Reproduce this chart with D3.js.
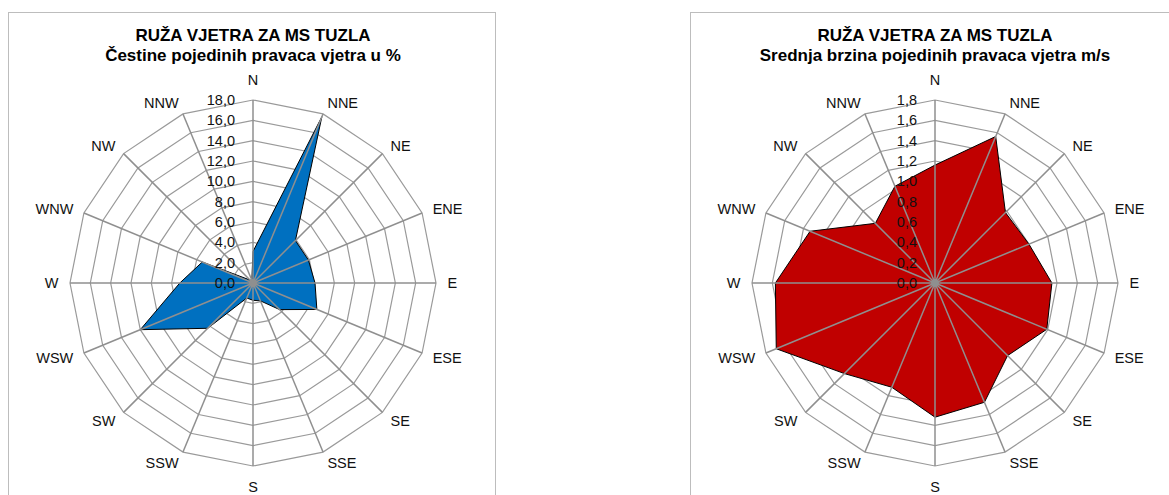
<!DOCTYPE html>
<html>
<head>
<meta charset="utf-8">
<script src="https://cdn.jsdelivr.net/npm/d3@7"></script>
<style>
  body { margin: 0; background: #fff; }
  svg { display: block; font-family: "Liberation Sans", Arial, sans-serif; }
</style>
</head>
<body>
<svg id="chart" width="1169" height="495"></svg>
<script>
// wind directions, clockwise from north
var directions = ["N", "NNE", "NE", "ENE", "E", "ESE", "SE", "SSE",
                  "S", "SSW", "SW", "WSW", "W", "WNW", "NW", "NNW"];

// frequency of each direction, %
var frequency = [3.1, 17.7, 5.9, 5.9, 6.1, 6.8, 3.7, 1.9,
                 1.7, 1.6, 6.3, 12.0, 7.2, 5.4, 0.4, 0.3];

// mean speed of each direction, m/s
var speed = [1.16, 1.56, 0.98, 1.00, 1.15, 1.19, 1.01, 1.27,
             1.32, 1.11, 1.26, 1.69, 1.57, 1.33, 0.83, 1.03];

var freqTicks = [0, 2, 4, 6, 8, 10, 12, 14, 16, 18];
var speedTicks = [0, 0.2, 0.4, 0.6, 0.8, 1.0, 1.2, 1.4, 1.6, 1.8];

var titleMain = "RUŽA VJETRA ZA MS TUZLA";
var freqSubtitle = "Čestine pojedinih pravaca vjetra u %";
var speedSubtitle = "Srednja brzina pojedinih pravaca vjetra m/s";

var svg = d3.select("#chart");

// chart frames (bottom and right edge run off the picture)
svg.append("rect")
    .attr("x", 8.5).attr("y", 12.5)
    .attr("width", 487).attr("height", 500)
    .attr("fill", "none").attr("stroke", "#bdbdbd");
svg.append("rect")
    .attr("x", 690.5).attr("y", 12.5)
    .attr("width", 500).attr("height", 500)
    .attr("fill", "none").attr("stroke", "#bdbdbd");

function rose(cx, cy, values, ticks, fill, subtitle) {
    var outer = 183,
        labelR = 194.5;
    var g = svg.append("g").attr("transform", "translate(" + cx + "," + cy + ")");

    var angle = d3.scaleBand()
        .domain(directions)
        .range([0, 2 * Math.PI])
        .align(0);
    var r = d3.scaleLinear()
        .domain([0, d3.max(ticks)])
        .range([0, outer]);
    var fmt = d3.format(".1f");

    function px(d, rad) { return rad * Math.sin(angle(d)); }
    function py(d, rad) { return -rad * Math.cos(angle(d)); }

    // titles
    svg.append("text")
        .attr("x", cx).attr("y", 41)
        .attr("text-anchor", "middle")
        .style("font-size", "17px").style("font-weight", "bold")
        .text(titleMain);
    svg.append("text")
        .attr("x", cx).attr("y", 61)
        .attr("text-anchor", "middle")
        .style("font-size", "17px").style("font-weight", "bold")
        .text(subtitle);

    // rings
    var ring = d3.lineRadial()
        .angle(function(d) { return angle(d); })
        .curve(d3.curveLinearClosed);
    g.selectAll("path.ring")
        .data(ticks.filter(function(t) { return t > 0; }))
        .enter().append("path")
        .attr("class", "ring")
        .attr("d", function(t) { return ring.radius(r(t))(directions); })
        .attr("fill", "none")
        .attr("stroke", "#9a9a9a")
        .attr("stroke-width", 1.2);

    // data polygon
    var area = d3.lineRadial()
        .angle(function(d, i) { return angle(directions[i]); })
        .radius(function(d) { return r(d); })
        .curve(d3.curveLinearClosed);
    g.append("path")
        .attr("d", area(values))
        .attr("fill", fill)
        .attr("stroke", "#000")
        .attr("stroke-width", 1);

    // spokes
    g.selectAll("line.spoke")
        .data(directions)
        .enter().append("line")
        .attr("class", "spoke")
        .attr("x1", 0).attr("y1", 0)
        .attr("x2", function(d) { return px(d, outer); })
        .attr("y2", function(d) { return py(d, outer); })
        .attr("stroke", "#8f8f8f")
        .attr("stroke-width", 1.5);
    g.append("circle").attr("r", 4).attr("fill", "#8f8f8f");

    // direction labels: boxes sit just outside the rim, like Excel does it
    g.selectAll("text.dir")
        .data(directions)
        .enter().append("text")
        .attr("class", "dir")
        .attr("x", function(d) { return px(d, labelR); })
        .attr("y", function(d) {
            var y = py(d, labelR);
            if (d === "N") return y - 3.5;
            if (d === "S") return y + 14;
            return y;
        })
        .attr("dy", function(d) { return (d === "N" || d === "S") ? 0 : "0.35em"; })
        .attr("text-anchor", function(d) {
            var s = Math.sin(angle(d));
            return s > 0.01 ? "start" : s < -0.01 ? "end" : "middle";
        })
        .style("font-size", "14.5px")
        .attr("fill", "#111")
        .text(function(d) { return d; });

    // value ticks along north axis
    g.selectAll("text.tick")
        .data(ticks)
        .enter().append("text")
        .attr("class", "tick")
        .attr("x", -18)
        .attr("y", function(t) { return -r(t); })
        .attr("dy", "0.35em")
        .attr("text-anchor", "end")
        .style("font-size", "14.5px")
        .attr("fill", "#111")
        .text(function(t) { return fmt(t).replace(".", ","); });
}

rose(253, 283, frequency, freqTicks, "#0070c0", freqSubtitle);
rose(935, 283, speed, speedTicks, "#c00000", speedSubtitle);
</script>
</body>
</html>
